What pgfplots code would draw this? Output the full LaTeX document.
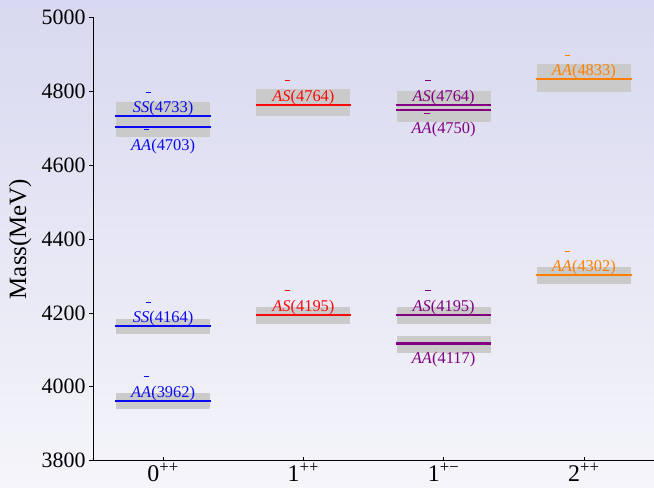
\documentclass[border=0pt]{standalone}
\usepackage{pgfplots}
\pgfplotsset{compat=1.18}
\usepackage{fontspec}
\setmainfont{Liberation Serif}
\definecolor{bgtop}{RGB}{216,216,240}
\definecolor{bgbot}{RGB}{245,245,250}
\definecolor{band}{RGB}{202,202,202}
\definecolor{cblue}{RGB}{10,10,245}
\definecolor{cred}{RGB}{250,10,10}
\definecolor{cpurp}{RGB}{128,0,128}
\definecolor{corange}{RGB}{255,128,0}
\newcommand{\ov}{\makebox[0pt][l]{\kern0.78em\raisebox{1.22em}{\rule{0.32em}{0.05em}}}}
\begin{document}
\begin{tikzpicture}
\shade[top color=bgtop, bottom color=bgbot] (0,0) rectangle (654bp,488bp);
\useasboundingbox (0,0) rectangle (654bp,488bp);
\begin{axis}[
  at={(93bp,27.5bp)}, anchor=south west,
  scale only axis, width=561bp, height=443bp,
  xmin=-0.5, xmax=3.5, ymin=3800, ymax=5000,
  axis x line*=bottom, axis y line*=left,
  axis line style={line width=1pt, black},
  xtick={0,1,2,3},
  xticklabels={0\textsuperscript{++},1\textsuperscript{++},1\textsuperscript{+\textminus},2\textsuperscript{++}},
  ytick={3800,4000,4200,4400,4600,4800,5000},
  yticklabels={3800,4000,4200,4400,4600,4800,5000},
  xtick align=inside, ytick align=outside,
  major tick length=3.5bp,
  tick style={black, line width=0.6pt},
  xticklabel style={font=\fontsize{24}{28}\selectfont, yshift=1bp},
  yticklabel style={font=\fontsize{22}{26}\selectfont, xshift=-0.5bp},
  ylabel={Mass(MeV)},
  ylabel style={font=\fontsize{25}{29}\selectfont, at={(axis description cs:-0.13,0.5)}, anchor=center},
  clip=false,
]
% error bands
\addplot[fill=band, draw=none] coordinates {(-0.335,4700) (0.335,4700) (0.335,4770) (-0.335,4770)} -- cycle;
\addplot[fill=band, draw=none] coordinates {(-0.335,4675) (0.335,4675) (0.335,4735) (-0.335,4735)} -- cycle;
\addplot[fill=band, draw=none] coordinates {(-0.335,4144) (0.335,4144) (0.335,4184) (-0.335,4184)} -- cycle;
\addplot[fill=band, draw=none] coordinates {(-0.335,3940) (0.335,3940) (0.335,3984) (-0.335,3984)} -- cycle;
\addplot[fill=band, draw=none] coordinates {(0.665,4732) (1.335,4732) (1.335,4805) (0.665,4805)} -- cycle;
\addplot[fill=band, draw=none] coordinates {(0.665,4171) (1.335,4171) (1.335,4217) (0.665,4217)} -- cycle;
\addplot[fill=band, draw=none] coordinates {(1.665,4735) (2.335,4735) (2.335,4800) (1.665,4800)} -- cycle;
\addplot[fill=band, draw=none] coordinates {(1.665,4718) (2.335,4718) (2.335,4770) (1.665,4770)} -- cycle;
\addplot[fill=band, draw=none] coordinates {(1.665,4171) (2.335,4171) (2.335,4217) (1.665,4217)} -- cycle;
\addplot[fill=band, draw=none] coordinates {(1.665,4092) (2.335,4092) (2.335,4138) (1.665,4138)} -- cycle;
\addplot[fill=band, draw=none] coordinates {(2.665,4797) (3.335,4797) (3.335,4873) (2.665,4873)} -- cycle;
\addplot[fill=band, draw=none] coordinates {(2.665,4279) (3.335,4279) (3.335,4325) (2.665,4325)} -- cycle;
% mass lines
\addplot[cblue, line width=2.2pt] coordinates {(-0.34,4733) (0.34,4733)};
\addplot[cblue, line width=2.2pt] coordinates {(-0.34,4703) (0.34,4703)};
\addplot[cblue, line width=2.2pt] coordinates {(-0.34,4164) (0.34,4164)};
\addplot[cblue, line width=2.2pt] coordinates {(-0.34,3962) (0.34,3962)};
\addplot[cred, line width=2.2pt] coordinates {(0.66,4764) (1.34,4764)};
\addplot[cred, line width=2.2pt] coordinates {(0.66,4195) (1.34,4195)};
\addplot[cpurp, line width=2.2pt] coordinates {(1.66,4764) (2.34,4764)};
\addplot[cpurp, line width=2.2pt] coordinates {(1.66,4750) (2.34,4750)};
\addplot[cpurp, line width=2.2pt] coordinates {(1.66,4195) (2.34,4195)};
\addplot[cpurp, line width=2.2pt] coordinates {(1.66,4117) (2.34,4117)};
\addplot[corange, line width=2.2pt] coordinates {(2.66,4833) (3.34,4833)};
\addplot[corange, line width=2.2pt] coordinates {(2.66,4302) (3.34,4302)};
% labels
\tikzset{lab/.style={font=\fontsize{16.5}{19}\selectfont, inner sep=0pt, anchor=base}}
\node[lab, cblue, yshift=3.5bp] at (axis cs:0,4733) {\ov\textit{SS}(4733)};
\node[lab, cblue, yshift=-23bp] at (axis cs:0,4703) {\ov\textit{AA}(4703)};
\node[lab, cblue, yshift=3.5bp] at (axis cs:0,4164) {\ov\textit{SS}(4164)};
\node[lab, cblue, yshift=3.5bp] at (axis cs:0,3962) {\ov\textit{AA}(3962)};
\node[lab, cred, yshift=3.5bp] at (axis cs:1,4764) {\ov\textit{AS}(4764)};
\node[lab, cred, yshift=3.5bp] at (axis cs:1,4195) {\ov\textit{AS}(4195)};
\node[lab, cpurp, yshift=3.5bp] at (axis cs:2,4764) {\ov\textit{AS}(4764)};
\node[lab, cpurp, yshift=-24bp] at (axis cs:2,4750) {\ov\textit{AA}(4750)};
\node[lab, cpurp, yshift=3.5bp] at (axis cs:2,4195) {\ov\textit{AS}(4195)};
\node[lab, cpurp, yshift=-20bp] at (axis cs:2,4117) {\ov\textit{AA}(4117)};
\node[lab, corange, yshift=3.5bp] at (axis cs:3,4833) {\ov\textit{AA}(4833)};
\node[lab, corange, yshift=3.5bp] at (axis cs:3,4302) {\ov\textit{AA}(4302)};
\end{axis}
\end{tikzpicture}
\end{document}
